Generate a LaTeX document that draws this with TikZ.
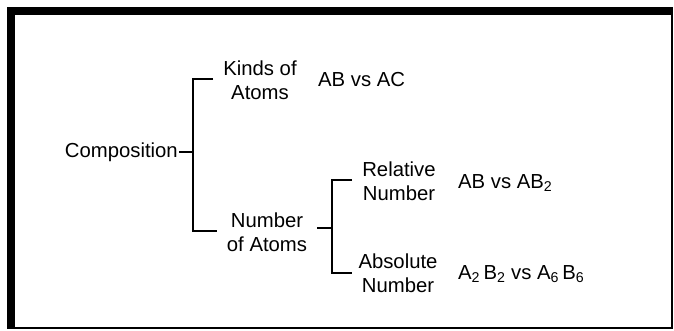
\documentclass[tikz,border=0pt]{standalone}
\usepackage{fontspec}
\setmainfont{Liberation Sans}
\begin{document}
\begin{tikzpicture}[x=1pt,y=-1pt,
  lbl/.style={align=center,inner sep=1pt,font=\fontsize{20.3}{24}\selectfont},
  ex/.style={anchor=west,inner sep=0pt,font=\fontsize{20.3}{24}\selectfont},
  brk/.style={line width=1.8pt}]
\useasboundingbox (0,0) rectangle (674,331);
% frame: heavy on top and left, light on right and bottom
\fill[black] (7,7) rectangle (673,329);
\fill[white] (15,15) rectangle (671,327);

% labels
\node[lbl,anchor=east] (comp) at (179,152) {Composition};
\node[lbl] (kinds) at (260,80) {Kinds of\\Atoms};
\node[ex] (ex1) at (318,80) {AB vs AC};
\node[lbl] (number) at (267,232) {Number\\of Atoms};
\node[lbl] (rel) at (399,181) {Relative\\Number};
\node[ex] (ex2) at (458,183) {AB vs AB\textsubscript{2}};
\node[lbl] (abs) at (398,273) {Absolute\\Number};
\node[ex] (ex3) at (458,274) {A\textsubscript{2}\,B\textsubscript{2} vs A\textsubscript{6}\,B\textsubscript{6}};

% bracket joints
\coordinate (b1t) at (193,79);
\coordinate (b1m) at (193,152);
\coordinate (b1b) at (193,231);
\coordinate (k1) at (213,79);
\coordinate (n1) at (217,231);
\coordinate (s2) at (317,228);
\coordinate (b2m) at (332,228);
\coordinate (b2t) at (332,180);
\coordinate (b2b) at (332,273);
\coordinate (r1) at (352,180);
\coordinate (a1) at (352,273);

% first-level bracket
\draw[brk] (comp.east) -- (b1m);
\draw[brk] (k1) -- (b1t) -- (b1b) -- (n1);
% second-level bracket
\draw[brk] (s2) -- (b2m);
\draw[brk] (r1) -- (b2t) -- (b2b) -- (a1);
\end{tikzpicture}
\end{document}
